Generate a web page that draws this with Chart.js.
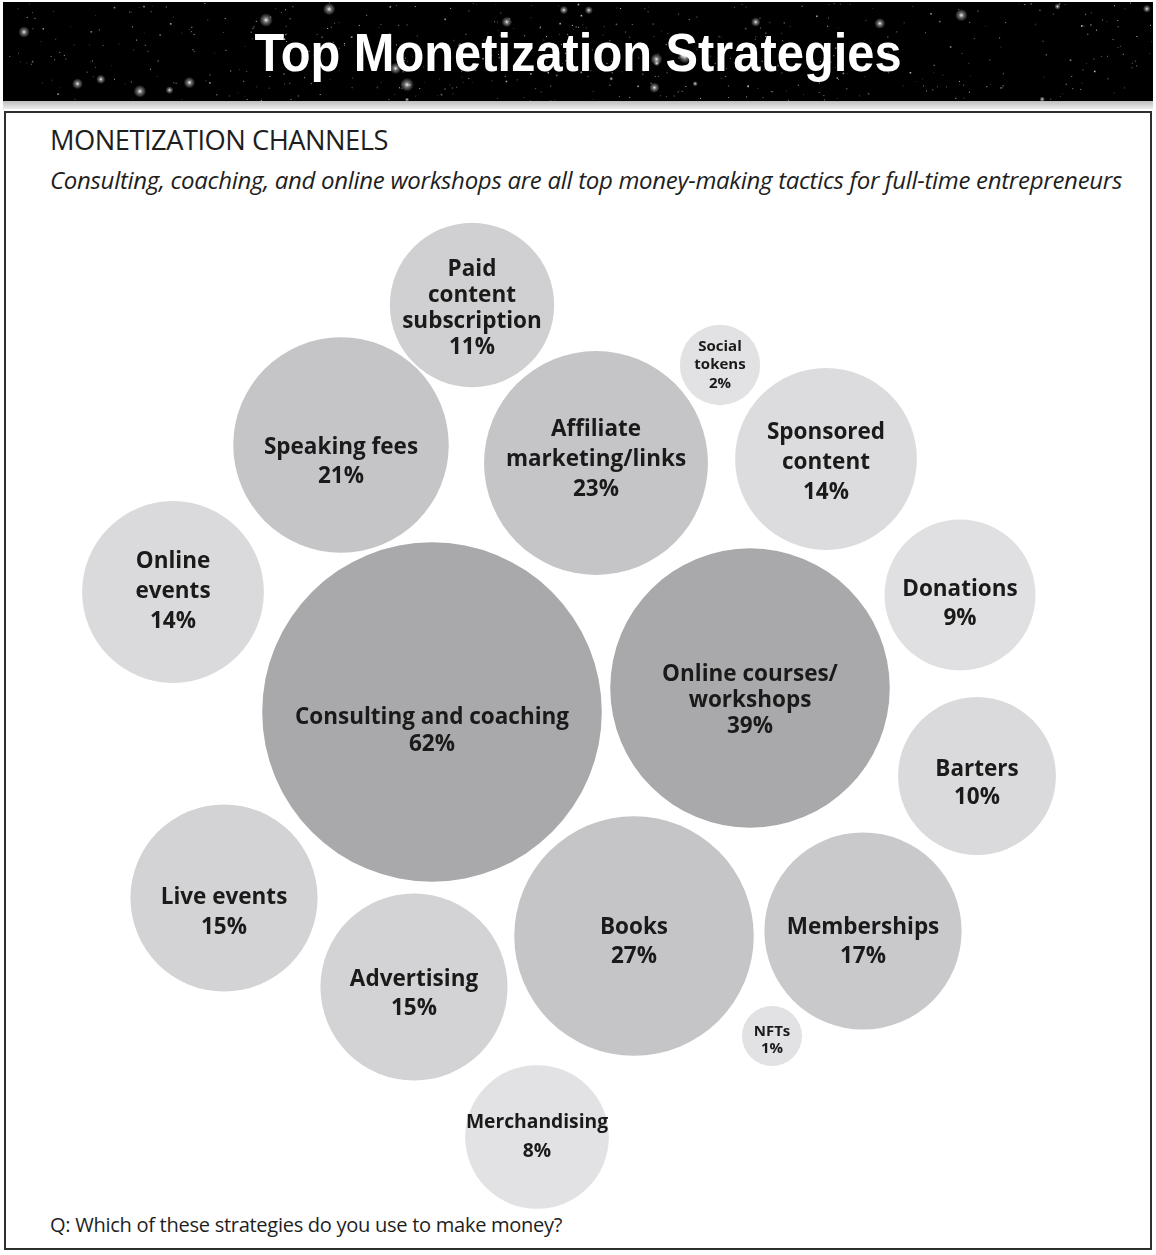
<!DOCTYPE html>
<html>
<head>
<meta charset="utf-8">
<title>Top Monetization Strategies</title>
<script src="https://cdn.jsdelivr.net/npm/chart.js@4.4.1/dist/chart.umd.min.js"></script>
<style>
  html, body { margin: 0; padding: 0; background: #fff; }
  #page { position: relative; width: 1156px; height: 1255px; overflow: hidden; background: #fff; }
  #banner { position: absolute; left: 3px; top: 2px; width: 1150px; height: 99px; }
  #bannerShade { position: absolute; left: 3px; top: 101px; width: 1150px; height: 8px;
                 background: linear-gradient(#bdbdbd, #ededed); }
  #title { position: absolute; left: 0; top: 20px; width: 1156px; text-align: center; white-space: nowrap; }
  #title span { display: inline-block; color: #fff; font-family: "Liberation Sans", Arial, sans-serif;
                font-weight: bold; font-size: 54px; line-height: 64px; transform-origin: 50% 50%; }
  #box { position: absolute; left: 4px; top: 111px; width: 1144px; height: 1135px; border: 2px solid #2e2e2e; }
  .txt { position: absolute; left: 50px; white-space: nowrap; color: #1e1e1e; font-family: "Open Sans", sans-serif; }
  #heading { top: 124px; font-size: 24px; line-height: 32px; letter-spacing: -0.5px; }
  #subtitle { top: 165px; font-size: 22px; line-height: 30px; font-style: italic; letter-spacing: -0.3px; }
  #question { top: 1211px; font-size: 18px; line-height: 28px; letter-spacing: -0.3px; }
  #chartCanvas { position: absolute; left: 0; top: 0; }
</style>
</head>
<body>
<div id="page">
  <canvas id="banner" width="1150" height="99"></canvas>
  <div id="bannerShade"></div>
  <div id="title"><span id="titleText">Top Monetization Strategies</span></div>
  <div id="box"></div>
  <div class="txt" id="heading">MONETIZATION CHANNELS</div>
  <div class="txt" id="subtitle">Consulting, coaching, and online workshops are all top money-making tactics for full-time entrepreneurs</div>
  <div class="txt" id="question">Q: Which of these strategies do you use to make money?</div>
  <canvas id="chartCanvas" width="1156" height="1255"></canvas>
</div>

<script>
// ---- data: share of respondents using each monetization channel (%) ----
const categories = [
  'Consulting and coaching', 'Online courses/workshops', 'Books', 'Affiliate marketing/links',
  'Speaking fees', 'Memberships', 'Live events', 'Advertising', 'Online events',
  'Sponsored content', 'Paid content subscription', 'Barters', 'Donations',
  'Merchandising', 'Social tokens', 'NFTs'
];
const values = [62, 39, 27, 23, 21, 17, 15, 15, 14, 14, 11, 10, 9, 8, 2, 1];

// how each category name wraps inside its bubble
const labelLines = [
  ['Consulting and coaching'], ['Online courses/', 'workshops'], ['Books'], ['Affiliate', 'marketing/links'],
  ['Speaking fees'], ['Memberships'], ['Live events'], ['Advertising'], ['Online', 'events'],
  ['Sponsored', 'content'], ['Paid', 'content', 'subscription'], ['Barters'], ['Donations'],
  ['Merchandising'], ['Social', 'tokens'], ['NFTs']
];

// ---- layout: packed bubble centres on a 1156 x 1255 grid ----
const layoutX = [432, 750, 634, 596, 341, 863, 224, 414, 173, 826, 472, 977, 960, 537, 720, 772];
const layoutY = [712, 688, 936, 463, 445, 931, 898, 987, 592, 459, 305, 776, 595, 1137, 365, 1036];
const labelShift = [19, 13, 6, -3, 17, 11, 15, 7, 0, 4, 4, 8, 9, 0, 0, 4];
const labelLeading = [27, 26, 29, 30, 29, 29, 30, 29, 30, 30, 26, 28, 29, 29, 18.5, 17];

// ---- styles ----
const fills = [
  '#a9a9ac', '#a9a9ac', '#c5c5c8', '#c5c5c8', '#c5c5c8', '#c9c9cc', '#d3d3d5', '#d3d3d5',
  '#dadadc', '#dcdcde', '#d0d0d2', '#dadadc', '#e0e0e2', '#e2e2e4', '#e2e2e4', '#e2e2e4'
];

// bubble radius in px grows with the share
const radiusOf = v => 30 * Math.pow(v, 0.42);

// ---- starry banner ----
(function drawBanner() {
  const c = document.getElementById('banner');
  const g = c.getContext('2d');
  g.fillStyle = '#000';
  g.fillRect(0, 0, c.width, c.height);
  let seed = 20230517;
  const rnd = () => { seed = (seed * 1664525 + 1013904223) % 4294967296; return seed / 4294967296; };
  for (let i = 0; i < 520; i++) {
    const x = rnd() * c.width, y = rnd() * c.height;
    const a = 0.15 + rnd() * 0.6;
    const s = rnd() < 0.85 ? 1 : 1.6;
    g.fillStyle = `rgba(255,255,255,${a.toFixed(2)})`;
    g.fillRect(x, y, s, s);
  }
  for (let i = 0; i < 28; i++) {
    const x = rnd() * c.width, y = rnd() * c.height;
    const r = 2 + rnd() * 5;
    const grad = g.createRadialGradient(x, y, 0, x, y, r);
    grad.addColorStop(0, 'rgba(255,255,255,0.95)');
    grad.addColorStop(0.35, 'rgba(255,255,255,0.45)');
    grad.addColorStop(1, 'rgba(255,255,255,0)');
    g.fillStyle = grad;
    g.beginPath(); g.arc(x, y, r, 0, Math.PI * 2); g.fill();
  }
})();

// ---- fit header texts to their widths ----
function fitFont(el, target) {
  const w = el.getBoundingClientRect().width;
  const fs = parseFloat(getComputedStyle(el).fontSize);
  el.style.fontSize = (fs * target / w).toFixed(2) + 'px';
}
function layoutTexts() {
  const t = document.getElementById('titleText');
  t.style.transform = 'none';
  const tw = t.getBoundingClientRect().width;
  t.style.transform = `scaleX(${(647 / tw).toFixed(4)})`;
  fitFont(document.getElementById('heading'), 338);
  fitFont(document.getElementById('subtitle'), 1072);
  fitFont(document.getElementById('question'), 512);
}

// ---- labels drawn inside each bubble (shrunk when wider than the bubble) ----
const bubbleLabels = {
  id: 'bubbleLabels',
  afterDatasetsDraw(chart) {
    const ctx = chart.ctx;
    const meta = chart.getDatasetMeta(0);
    ctx.save();
    ctx.fillStyle = '#1a1a1a';
    ctx.textAlign = 'center';
    ctx.textBaseline = 'middle';
    meta.data.forEach((el, i) => {
      const lines = labelLines[i].concat([values[i] + '%']);
      let fs = values[i] < 5 ? 15 : 22.5;
      ctx.font = `700 ${fs}px "Open Sans", sans-serif`;
      const widest = Math.max(...lines.map(t => ctx.measureText(t).width));
      const room = el.options.radius * 2 * 0.99;
      if (widest > room) {
        fs = fs * room / widest;
        ctx.font = `700 ${fs.toFixed(2)}px "Open Sans", sans-serif`;
      }
      const lh = labelLeading[i];
      const top = el.y + labelShift[i] - (lines.length - 1) * lh / 2;
      lines.forEach((t, k) => ctx.fillText(t, el.x, top + k * lh));
    });
    ctx.restore();
  }
};

let chart;
function build() {
  layoutTexts();
  if (chart) chart.destroy();
  chart = new Chart(document.getElementById('chartCanvas'), {
    type: 'bubble',
    data: {
      labels: categories,
      datasets: [{
        label: 'Monetization channels',
        data: values.map((v, i) => ({ x: layoutX[i], y: layoutY[i], r: radiusOf(v) })),
        backgroundColor: fills,
        borderWidth: 0,
        hoverBorderWidth: 0,
        hoverRadius: 0
      }]
    },
    options: {
      responsive: false,
      animation: false,
      layout: { padding: 0, autoPadding: false },
      scales: {
        x: { type: 'linear', min: 0, max: 1156, display: false },
        y: { type: 'linear', min: 0, max: 1255, reverse: true, display: false }
      },
      plugins: { legend: { display: false }, tooltip: { enabled: false } },
      clip: false
    },
    plugins: [bubbleLabels]
  });
}

build();
Promise.all([
  document.fonts.load('700 22px "Open Sans"'),
  document.fonts.load('italic 22px "Open Sans"'),
  document.fonts.load('24px "Open Sans"'),
  document.fonts.load('bold 54px "Liberation Sans"')
]).then(build).catch(build);
</script>
</body>
</html>
